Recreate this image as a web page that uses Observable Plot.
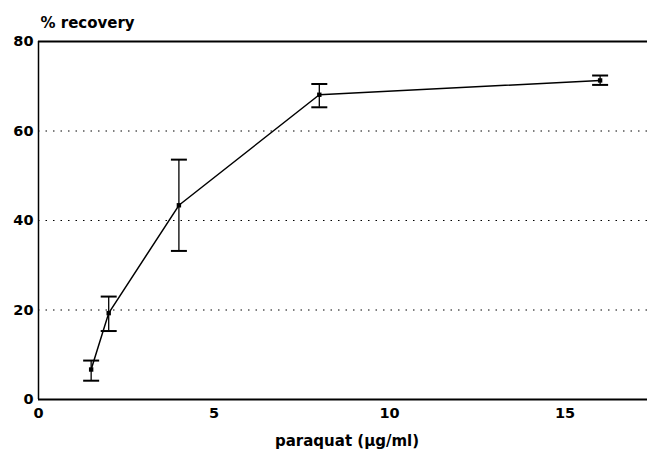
<!DOCTYPE html>
<html>
<head>
<meta charset="utf-8">
<script src="https://cdn.jsdelivr.net/npm/d3@7"></script>
<script src="https://cdn.jsdelivr.net/npm/@observablehq/plot@0.6"></script>
<style>
  html, body { margin: 0; padding: 0; background: #fff; }
  svg { display: block; }
</style>
</head>
<body>
<div id="chart"></div>
<script>
const concentration = [1.5, 2, 4, 8, 16];
const recovery = [6.7, 19.3, 43.4, 68.1, 71.3];
const errLow = [4.2, 15.3, 33.2, 65.3, 70.3];
const errHigh = [8.7, 23.0, 53.6, 70.5, 72.4];
const xTicks = [0, 5, 10, 15];
const yTicks = [0, 20, 40, 60, 80];
const gridLines = [20, 40, 60];

const data = concentration.map((x, i) => ({x, y: recovery[i], lo: errLow[i], hi: errHigh[i]}));

const cap = {draw(ctx, size) { const w = 8; ctx.moveTo(-w, 0); ctx.lineTo(w, 0); }};
const square = {draw(ctx, size) { const s = 2.2; ctx.rect(-s, -s, 2 * s, 2 * s); }};

const chart = Plot.plot({
  width: 647,
  height: 456,
  marginLeft: 38,
  marginRight: 0,
  marginTop: 41,
  marginBottom: 57,
  style: {fontFamily: "'DejaVu Sans', sans-serif", fontSize: "14.5px", fontWeight: "bold", color: "#000", background: "#fff"},
  x: {domain: [0, 17.35], ticks: xTicks, tickSize: 0, tickPadding: 8, label: null, tickFormat: d3.format("d")},
  y: {domain: [0, 80], ticks: yTicks, tickSize: 0, tickPadding: 5, label: null},
  marks: [
    Plot.ruleY(gridLines, {stroke: "#000", strokeWidth: 1, strokeDasharray: "1.5,6"}),
    Plot.ruleY([0], {stroke: "#000", strokeWidth: 2}),
    Plot.ruleY([80], {stroke: "#000", strokeWidth: 2}),
    Plot.ruleX([0], {stroke: "#000", strokeWidth: 1.5}),
    Plot.ruleX(data, {x: "x", y1: "lo", y2: "hi", stroke: "#000", strokeWidth: 1.3}),
    Plot.dot(data, {x: "x", y: "lo", symbol: cap, stroke: "#000", strokeWidth: 2, fill: "none", r: 1}),
    Plot.dot(data, {x: "x", y: "hi", symbol: cap, stroke: "#000", strokeWidth: 2, fill: "none", r: 1}),
    Plot.line(data, {x: "x", y: "y", stroke: "#000", strokeWidth: 1.5}),
    Plot.dot(data, {x: "x", y: "y", symbol: square, fill: "#000", stroke: "none", r: 1}),
    Plot.text(["% recovery"], {frameAnchor: "top-left", dx: 2, dy: -24, textAnchor: "start", fontSize: 15, fontWeight: "bold"}),
    Plot.text(["paraquat (\u00b5g/ml)"], {frameAnchor: "bottom", dx: 4, dy: 46, fontSize: 15, fontWeight: "bold"})
  ]
});
document.getElementById("chart").appendChild(chart);
</script>
</body>
</html>
